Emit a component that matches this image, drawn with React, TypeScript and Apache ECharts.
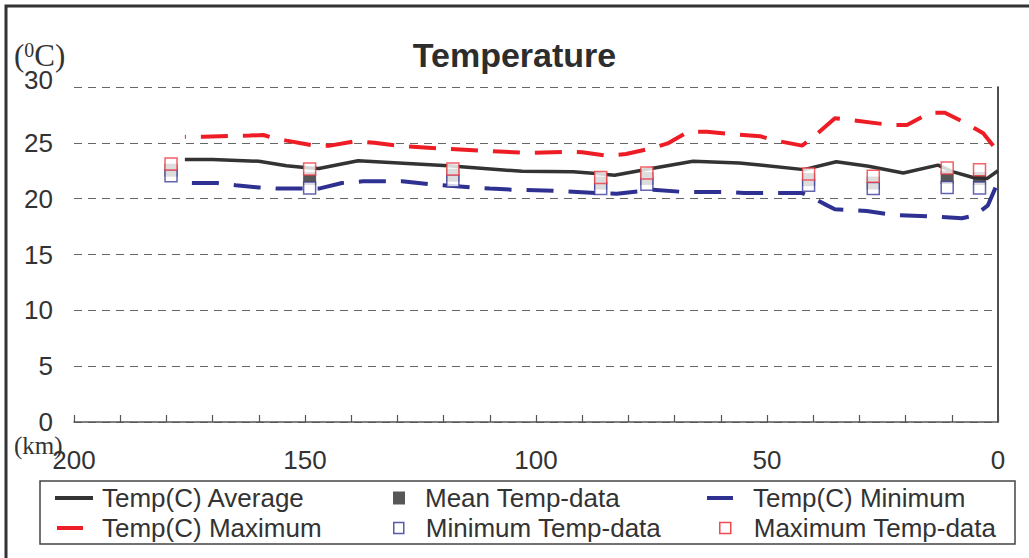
import React, { useEffect, useRef } from "react";
import * as echarts from "echarts";

const FONT = '"Liberation Sans", Arial, sans-serif';
const SERIF = '"Liberation Serif", "Times New Roman", serif';

// Temp(C) Average line (km, °C)
const avgKm = [176, 170, 160, 154, 149, 147, 138.5, 119, 103, 92, 87, 83, 75, 66, 56, 51, 42, 35, 28, 20.5, 13, 9.7, 5.4, 2.4, 0];
const avgTemp = [23.5, 23.5, 23.35, 22.95, 22.75, 22.7, 23.4, 22.95, 22.45, 22.4, 22.25, 22.1, 22.7, 23.35, 23.2, 23.0, 22.6, 23.3, 22.9, 22.3, 23.0, 22.4, 21.9, 21.8, 22.5];

// Temp(C) Maximum line
const maxKm = [176, 172, 162, 159, 157, 154, 148, 144.6, 139, 135, 130, 121, 112, 102, 93, 90, 84.5, 80.5, 75, 71.5, 67, 63, 58, 51.5, 48.7, 42.4, 40.3, 35.3, 32.7, 23.4, 19.7, 14.7, 11.5, 6.7, 3.2, 0];
const maxTemp = [25.55, 25.55, 25.65, 25.7, 25.45, 25.2, 24.75, 24.75, 25.15, 25.0, 24.75, 24.5, 24.3, 24.1, 24.2, 24.15, 23.85, 24.0, 24.5, 24.95, 26.0, 26.0, 25.8, 25.6, 25.25, 24.75, 25.4, 27.2, 27.1, 26.6, 26.6, 27.7, 27.7, 26.7, 25.85, 24.2];

// Temp(C) Minimum line
const minKm = [176, 169, 165, 160, 156, 147, 142, 137.5, 129, 123, 118.6, 114, 110, 105, 95.5, 87, 82.5, 74.7, 68, 58.7, 55, 42.4, 40.7, 37, 35.3, 32.5, 28.4, 23, 14, 7.8, 5, 2.2, 0];
const minTemp = [21.4, 21.4, 21.2, 21.0, 20.9, 20.9, 21.4, 21.55, 21.55, 21.3, 21.15, 21.0, 20.9, 20.8, 20.7, 20.5, 20.45, 20.8, 20.6, 20.6, 20.5, 20.5, 20.2, 19.4, 19.05, 19.0, 18.9, 18.55, 18.4, 18.25, 18.5, 19.4, 21.5];

// Measured data points
const sampleKm = [179, 149, 118, 86, 76, 41, 27, 11, 4];
const meanData = [22.55, 21.8, 22.1, 21.4, 21.8, 21.7, 21.4, 21.9, 21.8];
const minData = [22.05, 20.95, 21.6, 20.9, 21.3, 21.2, 20.9, 21.0, 20.95];
const maxData = [23.1, 22.65, 22.65, 21.9, 22.3, 22.2, 22.0, 22.75, 22.6];

const zip = (a: number[], b: number[]) => a.map((x, i) => [x, b[i]]);

export default function App() {
  const ref = useRef<HTMLDivElement>(null);
  useEffect(() => {
    if (!ref.current) return;
    const chart = echarts.init(ref.current, null, { renderer: "svg" });
    const legendItem = (
      name: string,
      left: number,
      top: number,
      w: number,
      h: number,
      pad: number,
      itemStyle: any,
      hidden?: boolean
    ) => {
      const base: any = {
        data: [{ name, icon: "rect", itemStyle }],
        left,
        top,
        itemWidth: w,
        itemHeight: h,
        padding: 0,
        selectedMode: false,
        textStyle: { fontFamily: FONT, fontSize: 26, color: "#333", padding: [0, 0, 0, pad] },
      };
      if (hidden) {
        base.data = [{ name, icon: "rect", itemStyle: { opacity: 0 }, lineStyle: { opacity: 0 } }];
        base.itemStyle = { opacity: 0 };
        base.lineStyle = { opacity: 0 };
      }
      return base;
    };
    chart.setOption({
      animation: false,
      backgroundColor: "#fff",
      title: {
        text: "Temperature",
        left: "center",
        top: 33,
        textStyle: { fontFamily: FONT, fontSize: 34, fontWeight: "bold", color: "#2d2d2d" },
      },
      grid: { left: 74, right: 31, top: 87, bottom: 136 },
      xAxis: {
        type: "value",
        inverse: true,
        min: 0,
        max: 200,
        interval: 50,
        axisLine: { lineStyle: { color: "#555", width: 1.5 } },
        axisTick: { inside: true, length: 7, lineStyle: { color: "#555", width: 1.2 } },
        minorTick: { show: true, splitNumber: 5, length: 7, lineStyle: { color: "#555", width: 1.2 } },
        axisLabel: { fontFamily: FONT, fontSize: 26, color: "#333", margin: 25 },
        splitLine: { show: false },
      },
      yAxis: [
        {
          type: "value",
          min: 0,
          max: 30,
          interval: 5,
          axisLine: { show: true, lineStyle: { color: "#8c8c8c", width: 1.5 } },
          axisTick: { show: false },
          axisLabel: {
            fontFamily: FONT,
            fontSize: 26,
            color: "#333",
            margin: 21,
            formatter: (v: number) => (v === 30 ? "{t|30}" : String(v)),
            rich: { t: { fontFamily: FONT, fontSize: 26, color: "#333", padding: [0, 0, 14, 0] } },
          },
          splitLine: { show: true, lineStyle: { color: "#666", type: [8, 6], width: 1.2 } },
        },
        {
          type: "value",
          position: "right",
          min: 0,
          max: 30,
          interval: 5,
          axisLine: { show: true, lineStyle: { color: "#333", width: 1.5 } },
          axisTick: { show: false },
          axisLabel: { show: false },
          splitLine: { show: false },
        },
      ],
      legend: [
        legendItem("Temp(C) Average", 55, 485, 38, 4, 4, {}, true),
        legendItem("Temp(C) Maximum", 57, 515, 26, 4, 14, {}, true),
        legendItem("Mean Temp-data", 393, 485, 12, 13, 15, { color: "#2d2d2d", borderWidth: 0 }),
        legendItem("Minimum Temp-data", 393, 515, 10, 11, 17, { color: "#fff", borderColor: "#2e3192", borderWidth: 1.5, borderType: "solid" }),
        legendItem("Temp(C) Minimum", 707, 485, 26, 4, 15, {}, true),
        legendItem("Maximum Temp-data", 719, 515, 11, 11, 18, { color: "#fff", borderColor: "#ee1c24", borderWidth: 1.5, borderType: "solid" }),
      ],
      series: [
        {
          name: "Temp(C) Average",
          type: "line",
          data: zip(avgKm, avgTemp),
          symbol: "none",
          color: "#333",
          lineStyle: { color: "#333", width: 3.5 },
          z: 2,
        },
        {
          name: "Temp(C) Maximum",
          type: "line",
          data: zip(maxKm, maxTemp),
          symbol: "none",
          color: "#ee1c24",
          lineStyle: { color: "#ee1c24", width: 4, type: [27, 15], dashOffset: 26 },
          z: 2,
        },
        {
          name: "Temp(C) Minimum",
          type: "line",
          data: zip(minKm, minTemp),
          symbol: "none",
          color: "#2e3192",
          lineStyle: { color: "#2e3192", width: 4, type: [27, 15], dashOffset: 35 },
          z: 2,
        },
        {
          name: "Mean Temp-data",
          type: "scatter",
          data: zip(sampleKm, meanData),
          symbol: "rect",
          symbolSize: 13,
          itemStyle: { color: "#2d2d2d" },
          z: 3,
        },
        {
          name: "Minimum Temp-data",
          type: "scatter",
          data: zip(sampleKm, minData),
          symbol: "rect",
          symbolSize: 12,
          itemStyle: { color: "#fff", borderColor: "#3a3d9a", borderWidth: 1.5 },
          z: 4,
        },
        {
          name: "Maximum Temp-data",
          type: "scatter",
          data: zip(sampleKm, maxData),
          symbol: "rect",
          symbolSize: 12,
          itemStyle: { color: "#fff", borderColor: "#ee3a40", borderWidth: 1.5 },
          z: 5,
        },
      ],
      graphic: [
        {
          type: "rect",
          shape: { x: 6, y: 6, width: 1100, height: 700 },
          style: { fill: "none", stroke: "#333", lineWidth: 3 },
          silent: true,
        },
        {
          type: "rect",
          shape: { x: 40, y: 481, width: 975, height: 63 },
          style: { fill: "none", stroke: "#444", lineWidth: 1.5 },
          silent: true,
        },
        // legend line keys
        { type: "rect", shape: { x: 55, y: 496, width: 38, height: 4 }, style: { fill: "#333" }, silent: true, z: 10 },
        { type: "rect", shape: { x: 57, y: 526, width: 26, height: 4 }, style: { fill: "#ee1c24" }, silent: true, z: 10 },
        { type: "rect", shape: { x: 707, y: 496, width: 26, height: 4 }, style: { fill: "#2e3192" }, silent: true, z: 10 },
        {
          type: "text",
          x: 14,
          y: 55,
          style: {
            text: "({s|0}C)",
            fontFamily: SERIF,
            fontSize: 31,
            fill: "#333",
            verticalAlign: "middle",
            rich: { s: { fontFamily: SERIF, fontSize: 20, fill: "#333", verticalAlign: "top" } },
          },
          silent: true,
        },
        {
          type: "text",
          x: 14,
          y: 445,
          style: { text: "(km)", fontFamily: SERIF, fontSize: 25, fill: "#333", verticalAlign: "middle" },
          silent: true,
        },
      ],
    });
    return () => chart.dispose();
  }, []);
  return (
    <div
      ref={ref}
      style={{ position: "absolute", left: 0, top: 0, width: 1029, height: 558 }}
    />
  );
}
